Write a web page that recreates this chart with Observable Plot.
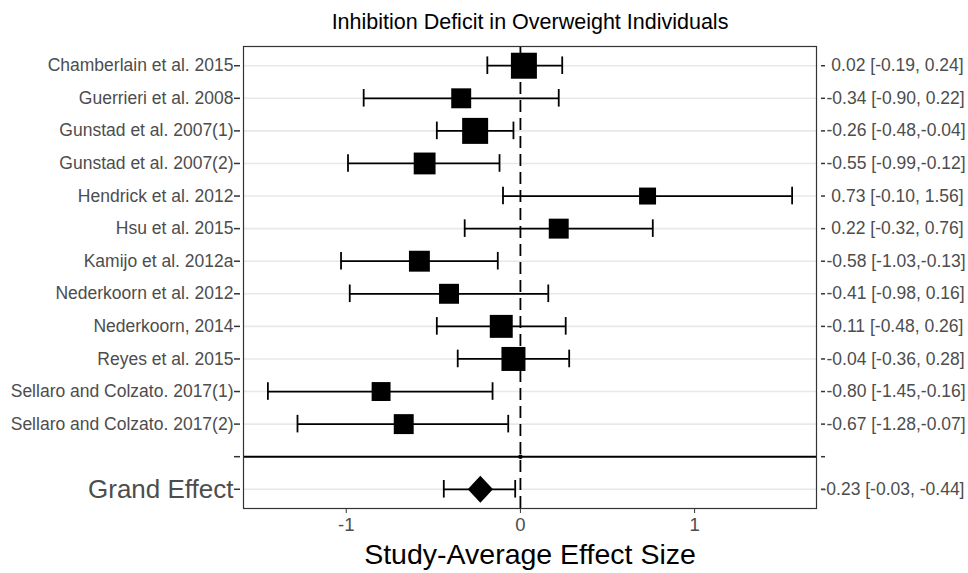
<!DOCTYPE html>
<html>
<head>
<meta charset="utf-8">
<script src="https://cdn.jsdelivr.net/npm/d3@7"></script>
<script src="https://cdn.jsdelivr.net/npm/@observablehq/plot@0.6"></script>
<style>
  body { margin: 0; background: #fff; }
  #chart svg { font-family: "Liberation Sans", Arial, Helvetica, sans-serif; }
  #chart svg text { white-space: pre; }
</style>
</head>
<body>
<div id="chart"></div>
<script>
// Per-study effect sizes with 95% intervals and meta-analytic weights
const studies = [
  "Chamberlain et al. 2015",
  "Guerrieri et al. 2008",
  "Gunstad et al. 2007(1)",
  "Gunstad et al. 2007(2)",
  "Hendrick et al. 2012",
  "Hsu et al. 2015",
  "Kamijo et al. 2012a",
  "Nederkoorn et al. 2012",
  "Nederkoorn, 2014",
  "Reyes et al. 2015",
  "Sellaro and Colzato. 2017(1)",
  "Sellaro and Colzato. 2017(2)"
];
const effects = [0.02, -0.34, -0.26, -0.55, 0.73, 0.22, -0.58, -0.41, -0.11, -0.04, -0.80, -0.67];
const lower   = [-0.19, -0.90, -0.48, -0.99, -0.10, -0.32, -1.03, -0.98, -0.48, -0.36, -1.45, -1.28];
const upper   = [0.24, 0.22, -0.04, -0.12, 1.56, 0.76, -0.13, 0.16, 0.26, 0.28, -0.16, -0.07];
const weights = [6.8, 4.0, 6.8, 4.8, 2.9, 4.0, 4.4, 4.0, 5.3, 5.8, 3.6, 4.0];

// Pooled estimate
const grandName = "Grand Effect";
const grandEffect = -0.23;
const grandLower = -0.44;
const grandUpper = -0.03;

const separator = " ";
const xTicks = [-1, 0, 1];
const title = "Inhibition Deficit in Overweight Individuals";
const xTitle = "Study-Average Effect Size";

// Right-hand labels: estimate [lower, upper], padded like sprintf("%5.2f")
const pad = v => (v >= 0 ? " " : "") + v.toFixed(2);
const rows = studies.map((study, i) => ({
  study,
  effect: effects[i],
  lower: lower[i],
  upper: upper[i],
  weight: weights[i],
  label: `${pad(effects[i])} [${pad(lower[i])},${pad(upper[i])}]`
}));
const grand = [{
  study: grandName,
  effect: grandEffect,
  lower: grandLower,
  upper: grandUpper,
  label: `${grandEffect.toFixed(2)} [${grandUpper.toFixed(2)}, ${grandLower.toFixed(2)}]`
}];
const allRows = rows.concat(grand);
const labelOf = new Map(rows.map(d => [d.study, d.label]));
const yDomain = [...studies, separator, grandName];

// Filled rhombus for the pooled estimate
const rhombus = {
  draw(ctx, size) {
    const h = Math.sqrt(size) * 0.665, w = h * 0.93;
    ctx.moveTo(0, -h); ctx.lineTo(w, 0); ctx.lineTo(0, h); ctx.lineTo(-w, 0); ctx.closePath();
  }
};

const tickColor = "#333333";
const textColor = "#4d4d4d";

const chart = Plot.plot({
  width: 968,
  height: 573,
  marginTop: 46,
  marginBottom: 65,
  marginLeft: 243,
  marginRight: 152,
  style: { background: "#fff", overflow: "visible" },
  x: { domain: [-1.59, 1.70] },
  y: { type: "band", domain: yDomain, paddingInner: 0, paddingOuter: 0.09, round: false },
  r: { type: "sqrt", domain: [0, 6.8], range: [0, 14.67] },
  marks: [
    Plot.gridY(yDomain.filter(d => d !== separator), { stroke: "#e8e8e8", strokeOpacity: 1, strokeWidth: 1.6 }),
    Plot.ruleY([separator], { stroke: "#000", strokeWidth: 2 }),
    Plot.ruleX([0], { stroke: "#000", strokeWidth: 1.8, strokeDasharray: "12,6" }),
    Plot.dot([0], { x: d => d, y: () => separator, r: 2.2, fill: "#000" }),
    // error bars with end caps
    Plot.ruleY(allRows, { y: "study", x1: "lower", x2: "upper", stroke: "#000", strokeWidth: 1.8 }),
    Plot.tickX(allRows, { x: "lower", y: "study", stroke: "#000", strokeWidth: 1.8, insetTop: 7.5, insetBottom: 7.5 }),
    Plot.tickX(allRows, { x: "upper", y: "study", stroke: "#000", strokeWidth: 1.8, insetTop: 7.5, insetBottom: 7.5 }),
    // study estimates sized by weight
    Plot.dot(rows, { x: "effect", y: "study", r: "weight", symbol: "square", fill: "#000", stroke: "none" }),
    Plot.dot(grand, { x: "effect", y: "study", r: 11.5, symbol: rhombus, fill: "#000", stroke: "none" }),
    Plot.frame({ stroke: tickColor, strokeWidth: 1.2 }),
    // left axis: ticks, study names, pooled row name
    Plot.axisY(yDomain, { anchor: "left", tickSize: 6, dx: -3, stroke: tickColor, strokeWidth: 1.5, fill: "none", label: null }),
    Plot.axisY(studies, { anchor: "left", tickSize: 0, tickPadding: 7, dx: -3, fontSize: 17.5, fill: textColor, label: null }),
    Plot.axisY([grandName], { anchor: "left", tickSize: 0, tickPadding: 7, dx: -3, fontSize: 26, fill: textColor, label: null }),
    // right axis: ticks and estimate labels
    Plot.axisY(yDomain, { anchor: "right", tickSize: 4, dx: 4, stroke: tickColor, strokeWidth: 1.5, fill: "none", label: null }),
    Plot.axisY(studies, { anchor: "right", tickSize: 0, tickPadding: 6, dx: 4, fontSize: 17.5, fill: textColor, label: null, tickFormat: d => labelOf.get(d) }),
    Plot.text(grand, { y: "study", text: "label", frameAnchor: "right", textAnchor: "start", dx: 4, fontSize: 17.5, fill: textColor }),
    // bottom axis
    Plot.axisX(xTicks, { tickSize: 5, tickPadding: 4, fontSize: 18.5, fill: textColor, stroke: tickColor, label: null, tickFormat: d => String(d) }),
    Plot.text([xTitle], { frameAnchor: "bottom", lineAnchor: "middle", dy: 46, fontSize: 28.5, fill: "#000" }),
    Plot.text([title], { frameAnchor: "top", lineAnchor: "middle", dy: -24.5, fontSize: 21.5, fill: "#000" })
  ]
});

document.getElementById("chart").appendChild(chart);
</script>
</body>
</html>
